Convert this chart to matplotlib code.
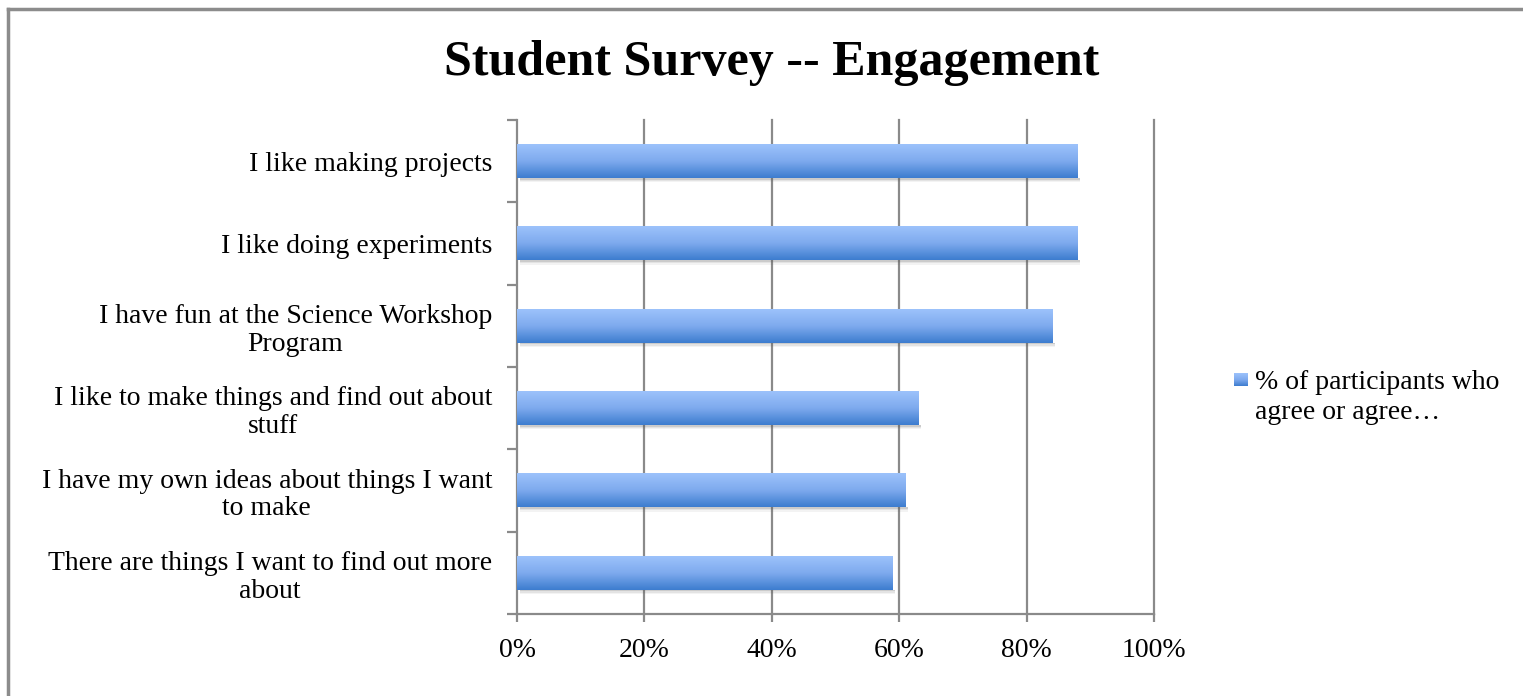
import matplotlib
matplotlib.use("Agg")
import matplotlib.pyplot as plt
from matplotlib.lines import Line2D
from matplotlib.patches import Rectangle
from matplotlib.colors import LinearSegmentedColormap
import numpy as np

# Survey statements, top to bottom
statements = [
    "I like making projects",
    "I like doing experiments",
    "I have fun at the Science Workshop\nProgram",
    "I like to make things and find out about\nstuff",
    "I have my own ideas about things I want\nto make",
    "There are things I want to find out more\nabout",
]
agree_share = [0.88, 0.88, 0.84, 0.63, 0.61, 0.59]
x_ticks = [0, 0.2, 0.4, 0.6, 0.8, 1.0]
x_tick_labels = ["0%", "20%", "40%", "60%", "80%", "100%"]
series_name = "% of participants who\nagree or agree…"

plt.rcParams['font.family'] = ['Liberation Serif', 'DejaVu Serif']

W, H = 1523, 696
fig = plt.figure(figsize=(W / 100, H / 100), dpi=100, facecolor="white")
ax = fig.add_axes([517 / W, 1 - 614 / H, (1154 - 517) / W, (614 - 120) / H])

# vertical blue gradient: dark at the bottom edge, light at the top
bar_cmap = LinearSegmentedColormap.from_list("bar", ["#3d7dcf", "#7eaaee", "#9cc2fb"])
grad = np.linspace(0, 1, 64).reshape(-1, 1)

n = len(statements)
ypos = np.arange(n)[::-1]
bar_h = 0.41

for y, v in zip(ypos, agree_share):
    # soft drop shadow under each bar
    for k, a in enumerate([0.30, 0.16, 0.07]):
        ax.add_patch(Rectangle((0.004, y - bar_h / 2 - 0.018 * (k + 1)), v, 0.018,
                               facecolor="#555555", edgecolor="none", alpha=a, zorder=2))
    ax.imshow(grad, cmap=bar_cmap, aspect="auto", origin="lower",
              extent=(0, v, y - bar_h / 2, y + bar_h / 2), zorder=3)

ax.set_xlim(0, 1)
ax.set_ylim(-0.5, n - 0.5)

# grid and axis lines
for x in x_ticks[1:]:
    ax.axvline(x, color="#8a8a8a", lw=1.6, zorder=1, clip_on=False)
for s in ["top", "right"]:
    ax.spines[s].set_visible(False)
for s in ["left", "bottom"]:
    ax.spines[s].set_color("#8a8a8a")
    ax.spines[s].set_linewidth(1.6)

ax.set_xticks(x_ticks)
ax.set_xticklabels(x_tick_labels, fontsize=20)
ax.set_yticks(ypos)
ax.set_yticklabels(statements, fontsize=20, linespacing=1.15)
for lbl in ax.get_yticklabels():
    lbl.set_multialignment("center")
ax.tick_params(axis="y", length=0, pad=18)
ax.tick_params(axis="x", length=6, width=1.6, color="#8a8a8a", pad=11)
# category boundary ticks on the y axis
ax.set_yticks(np.arange(-0.5, n, 1.0), minor=True)
ax.tick_params(axis="y", which="minor", length=7, width=1.6, color="#8a8a8a")

# legend: small gradient swatch and wrapped series name
key_ax = fig.add_axes([1234 / W, 1 - 386 / H, 14 / W, 13 / H])
key_ax.imshow(grad, cmap=bar_cmap, aspect="auto", origin="lower")
key_ax.axis("off")
fig.text(1255 / W, 1 - 370 / H, series_name, ha="left", va="top",
         fontsize=20, linespacing=1.25)

fig.text(0.507, 0.909, "Student Survey -- Engagement", ha="center", va="center",
         fontsize=36, fontweight="bold")

# outer chart frame (left and top edges)
fig.add_artist(Line2D([8 / W, 8 / W], [0, 1 - 9 / H], color="#8c8c8c", lw=2.5))
fig.add_artist(Line2D([8 / W, 1], [1 - 9 / H, 1 - 9 / H], color="#8c8c8c", lw=2.5))

fig.savefig("out.png", dpi=100, facecolor="white")
